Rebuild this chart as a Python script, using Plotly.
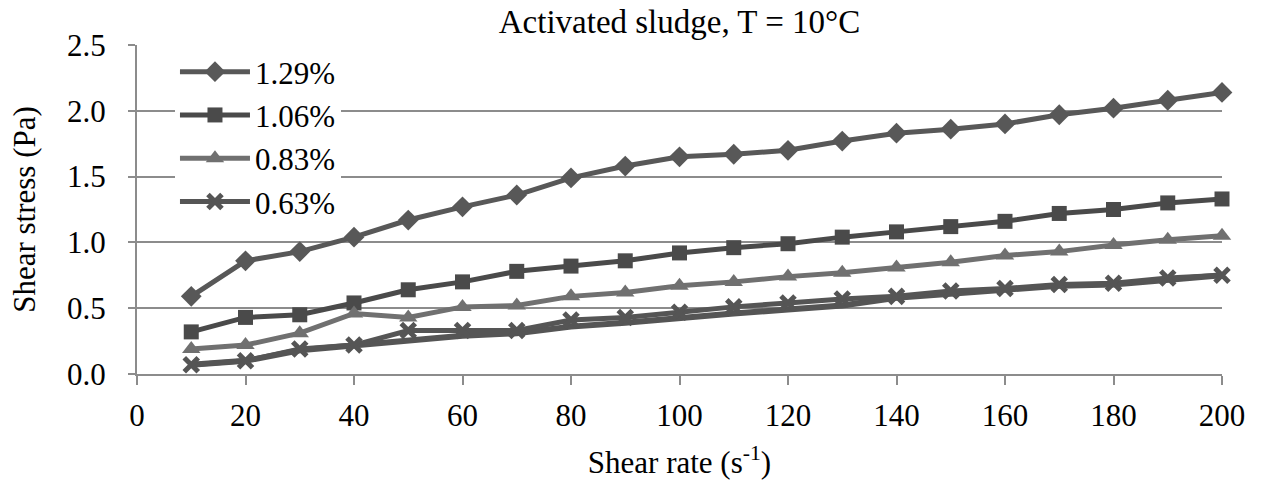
import plotly.graph_objects as go

# Shear rate steps (1/s)
shear_rate = [10, 20, 30, 40, 50, 60, 70, 80, 90, 100,
              110, 120, 130, 140, 150, 160, 170, 180, 190, 200]

# Shear stress (Pa) for each solids concentration
stress_129 = [0.59, 0.86, 0.93, 1.04, 1.17, 1.27, 1.36, 1.49, 1.58, 1.65,
              1.67, 1.70, 1.77, 1.83, 1.86, 1.90, 1.97, 2.02, 2.08, 2.14]
stress_106 = [0.32, 0.43, 0.45, 0.54, 0.64, 0.70, 0.78, 0.82, 0.86, 0.92,
              0.96, 0.99, 1.04, 1.08, 1.12, 1.16, 1.22, 1.25, 1.30, 1.33]
stress_083 = [0.19, 0.22, 0.31, 0.46, 0.43, 0.51, 0.52, 0.59, 0.62, 0.67,
              0.70, 0.74, 0.77, 0.81, 0.85, 0.90, 0.93, 0.98, 1.02, 1.05]
stress_063 = [0.07, 0.10, 0.19, 0.22, 0.33, 0.33, 0.33, 0.41, 0.43, 0.47,
              0.51, 0.54, 0.57, 0.59, 0.63, 0.65, 0.68, 0.69, 0.73, 0.75]
# second 0.63% curve (line only)
stress_063b = [0.07, 0.10, 0.18, 0.22, 0.26, 0.29, 0.31, 0.36, 0.39, 0.43,
               0.46, 0.49, 0.52, 0.58, 0.61, 0.64, 0.67, 0.68, 0.72, 0.75]

labels = ["1.29%", "1.06%", "0.83%", "0.63%"]
x_ticks = [0, 20, 40, 60, 80, 100, 120, 140, 160, 180, 200]
y_ticks = [0.0, 0.5, 1.0, 1.5, 2.0, 2.5]

FONT = "Liberation Serif"

fig = go.Figure()

fig.add_trace(go.Scatter(
    x=shear_rate, y=stress_063b, mode="lines", showlegend=False,
    line=dict(color="#555555", width=6), hoverinfo="skip", cliponaxis=False))

fig.add_trace(go.Scatter(
    x=shear_rate, y=stress_129, name=labels[0], mode="lines+markers",
    line=dict(color="#585858", width=5),
    marker=dict(symbol="diamond", size=16, color="#585858"), cliponaxis=False))
fig.add_trace(go.Scatter(
    x=shear_rate, y=stress_106, name=labels[1], mode="lines+markers",
    line=dict(color="#4a4a4a", width=5),
    marker=dict(symbol="square", size=15, color="#4a4a4a"), cliponaxis=False))
fig.add_trace(go.Scatter(
    x=shear_rate, y=stress_083, name=labels[2], mode="lines+markers",
    line=dict(color="#707070", width=5),
    marker=dict(symbol="triangle-up", size=16, color="#707070"), cliponaxis=False))
fig.add_trace(go.Scatter(
    x=shear_rate, y=stress_063, name=labels[3], mode="lines+markers",
    line=dict(color="#555555", width=5),
    marker=dict(symbol="x-thin", size=14, color="#555555",
                line=dict(color="#555555", width=5)), cliponaxis=False))

fig.update_layout(
    width=1262, height=481,
    margin=dict(l=137, r=40, t=45, b=107),
    paper_bgcolor="white", plot_bgcolor="white",
    font=dict(family=FONT, color="black", size=31),
    title=dict(text="Activated sludge, T = 10°C", x=0.5, xref="paper",
               y=0.955, yref="container", xanchor="center", yanchor="middle",
               font=dict(family=FONT, size=33, color="black")),
    legend=dict(x=0.035, y=1.0, xanchor="left", yanchor="top",
                bgcolor="white", font=dict(family=FONT, size=31, color="black"),
                itemwidth=70, tracegroupgap=0),
    xaxis=dict(range=[0, 200], tickvals=x_ticks, ticktext=[str(v) for v in x_ticks],
               showgrid=False, zeroline=False, showline=True, automargin=False,
               linecolor="#8c8c8c", linewidth=2,
               ticks="outside", ticklen=9, tickwidth=2, tickcolor="#8c8c8c",
               tickfont=dict(family=FONT, size=31), ticklabelstandoff=4,
               title=dict(text="Shear rate (s<sup>-1</sup>)",
                          font=dict(family=FONT, size=31), standoff=19)),
    yaxis=dict(range=[0, 2.5], tickvals=y_ticks,
               ticktext=[f"{v:.1f}" for v in y_ticks],
               showgrid=True, gridcolor="#8c8c8c", gridwidth=2,
               zeroline=False, showline=True, linecolor="#8c8c8c", linewidth=2,
               automargin=False,
               ticks="outside", ticklen=7, tickwidth=2, tickcolor="#8c8c8c",
               tickfont=dict(family=FONT, size=31), ticklabelstandoff=16,
               title=dict(text="Shear stress (Pa)",
                          font=dict(family=FONT, size=31), standoff=22)),
)

fig.write_html("out.html")
